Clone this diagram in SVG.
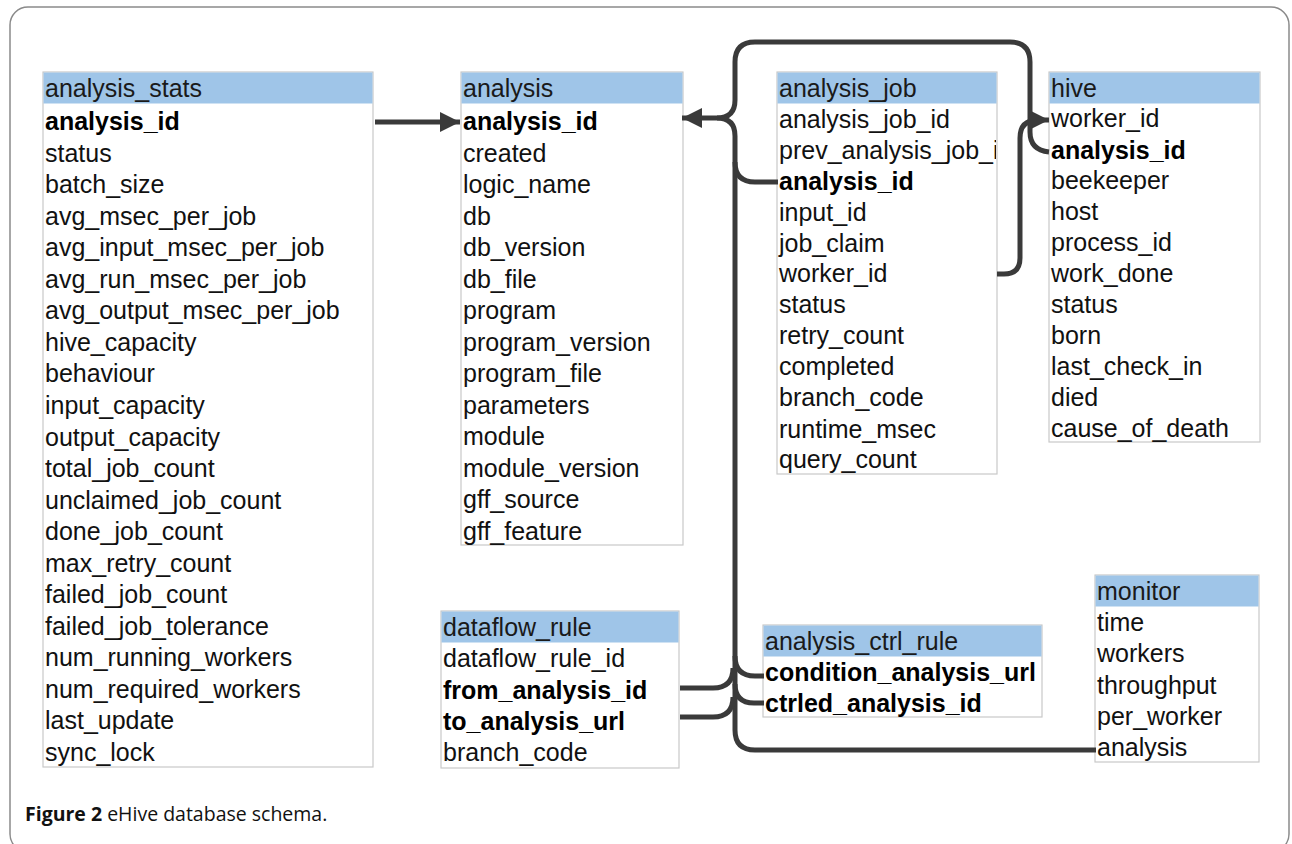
<svg xmlns="http://www.w3.org/2000/svg" width="1292" height="844" viewBox="0 0 1292 844">
<style>
.frame{fill:#fff;stroke:#8a8a8a;stroke-width:1.5}
.box{fill:#fff;stroke:#c9c9c9;stroke-width:1.2}
.hdr{fill:#9fc5e8;stroke:none}
.t{font-family:"Liberation Sans",Arial,sans-serif;font-size:25px;fill:#111}
.h{font-family:"Liberation Sans",Arial,sans-serif;font-size:25px;fill:#1a1a1a}
.b{font-weight:bold;fill:#000}
.c{fill:none;stroke:#3a3a3a;stroke-width:5;stroke-linecap:butt;stroke-linejoin:round}
.cap{font-family:"Open Sans","Noto Sans",sans-serif;font-size:19.5px;fill:#111}
</style>
<defs>
<marker id="ah" markerUnits="userSpaceOnUse" markerWidth="24" markerHeight="24" refX="20" refY="10" orient="auto">
<path d="M0,0 L20,10 L0,20 z" fill="#3a3a3a"/>
</marker>
<clipPath id="clipjob"><rect x="777" y="72" width="219" height="402"/></clipPath>
</defs>
<rect class="frame" x="10" y="7" width="1279" height="845" rx="18"/>

<g id="analysis_stats">
<rect class="box" x="43" y="72" width="330" height="695"/>
<rect class="hdr" x="43.5" y="72.5" width="329" height="31"/>
<text class="h" x="45" y="97">analysis_stats</text>
<text class="t b" x="45" y="130">analysis_id</text>
<text class="t" x="45" y="161.5">status</text>
<text class="t" x="45" y="193">batch_size</text>
<text class="t" x="45" y="224.5">avg_msec_per_job</text>
<text class="t" x="45" y="256">avg_input_msec_per_job</text>
<text class="t" x="45" y="287.5">avg_run_msec_per_job</text>
<text class="t" x="45" y="319">avg_output_msec_per_job</text>
<text class="t" x="45" y="350.5">hive_capacity</text>
<text class="t" x="45" y="382">behaviour</text>
<text class="t" x="45" y="414">input_capacity</text>
<text class="t" x="45" y="445.5">output_capacity</text>
<text class="t" x="45" y="477">total_job_count</text>
<text class="t" x="45" y="508.5">unclaimed_job_count</text>
<text class="t" x="45" y="540">done_job_count</text>
<text class="t" x="45" y="571.5">max_retry_count</text>
<text class="t" x="45" y="603">failed_job_count</text>
<text class="t" x="45" y="634.5">failed_job_tolerance</text>
<text class="t" x="45" y="666">num_running_workers</text>
<text class="t" x="45" y="697.5">num_required_workers</text>
<text class="t" x="45" y="729">last_update</text>
<text class="t" x="45" y="761">sync_lock</text>
</g>

<g id="analysis">
<rect class="box" x="461" y="72" width="222" height="473"/>
<rect class="hdr" x="461.5" y="72.5" width="221" height="31"/>
<text class="h" x="463" y="97">analysis</text>
<text class="t b" x="463" y="130">analysis_id</text>
<text class="t" x="463" y="161.5">created</text>
<text class="t" x="463" y="193">logic_name</text>
<text class="t" x="463" y="224.5">db</text>
<text class="t" x="463" y="256">db_version</text>
<text class="t" x="463" y="287.5">db_file</text>
<text class="t" x="463" y="319">program</text>
<text class="t" x="463" y="350.5">program_version</text>
<text class="t" x="463" y="382">program_file</text>
<text class="t" x="463" y="413.5">parameters</text>
<text class="t" x="463" y="445">module</text>
<text class="t" x="463" y="476.5">module_version</text>
<text class="t" x="463" y="508">gff_source</text>
<text class="t" x="463" y="539.5">gff_feature</text>
</g>

<g id="analysis_job">
<rect class="box" x="777" y="72" width="220" height="402"/>
<rect class="hdr" x="777.5" y="72.5" width="219" height="31"/>
<text class="h" x="779" y="97">analysis_job</text>
<g clip-path="url(#clipjob)">
<text class="t" x="779" y="128">analysis_job_id</text>
<text class="t" x="779" y="159">prev_analysis_job_i</text>
<text class="t b" x="779" y="190">analysis_id</text>
<text class="t" x="779" y="220.5">input_id</text>
<text class="t" x="779" y="251.5">job_claim</text>
<text class="t" x="779" y="282">worker_id</text>
<text class="t" x="779" y="313">status</text>
<text class="t" x="779" y="344">retry_count</text>
<text class="t" x="779" y="375">completed</text>
<text class="t" x="779" y="406">branch_code</text>
<text class="t" x="779" y="437.5">runtime_msec</text>
<text class="t" x="779" y="468">query_count</text>
</g>
</g>

<g id="hive">
<rect class="box" x="1049" y="72" width="211" height="370"/>
<rect class="hdr" x="1049.5" y="72.5" width="210" height="31"/>
<text class="h" x="1051" y="97">hive</text>
<text class="t" x="1051" y="127">worker_id</text>
<text class="t b" x="1051" y="159">analysis_id</text>
<text class="t" x="1051" y="189">beekeeper</text>
<text class="t" x="1051" y="220">host</text>
<text class="t" x="1051" y="251">process_id</text>
<text class="t" x="1051" y="281.5">work_done</text>
<text class="t" x="1051" y="313">status</text>
<text class="t" x="1051" y="344">born</text>
<text class="t" x="1051" y="375">last_check_in</text>
<text class="t" x="1051" y="406">died</text>
<text class="t" x="1051" y="437">cause_of_death</text>
</g>

<g id="dataflow_rule">
<rect class="box" x="441" y="611" width="238" height="157"/>
<rect class="hdr" x="441.5" y="611.5" width="237" height="31"/>
<text class="h" x="443" y="636">dataflow_rule</text>
<text class="t" x="443" y="667">dataflow_rule_id</text>
<text class="t b" x="443" y="699">from_analysis_id</text>
<text class="t b" x="443" y="730">to_analysis_url</text>
<text class="t" x="443" y="761">branch_code</text>
</g>

<g id="analysis_ctrl_rule">
<rect class="box" x="763" y="625" width="279" height="92"/>
<rect class="hdr" x="763.5" y="625.5" width="278" height="31"/>
<text class="h" x="765" y="650">analysis_ctrl_rule</text>
<text class="t b" x="765" y="681">condition_analysis_url</text>
<text class="t b" x="765" y="712">ctrled_analysis_id</text>
</g>

<g id="monitor">
<rect class="box" x="1095" y="575" width="164" height="187"/>
<rect class="hdr" x="1095.5" y="575.5" width="163" height="31"/>
<text class="h" x="1097" y="600">monitor</text>
<text class="t" x="1097" y="631">time</text>
<text class="t" x="1097" y="662">workers</text>
<text class="t" x="1097" y="694">throughput</text>
<text class="t" x="1097" y="725">per_worker</text>
<text class="t" x="1097" y="756">analysis</text>
</g>

<g id="connectors">
<path class="c" d="M375,122 L460,122" marker-end="url(#ah)"/>
<path class="c" d="M735,100 Q735,118 717,118 L682,118" marker-end="url(#ah)"/>
<path class="c" d="M735,136 Q735,118 717,118"/>
<path class="c" d="M735,100 L735,62 Q735,42 755,42 L1010,42 Q1030,42 1030,62 L1030,132 Q1030,150 1049,152"/>
<path class="c" d="M997,274 L1004,274 Q1020,274 1020,258 L1020,138 Q1020,120 1038,120 L1049,120" marker-end="url(#ah)"/>
<path class="c" d="M735,136 L735,730 Q735,750 755,750 L1096,750"/>
<path class="c" d="M735,162 Q735,182 755,182 L778,182"/>
<path class="c" d="M735,656 Q735,676 755,676 L764,676"/>
<path class="c" d="M735,684 Q735,703 754,703 L764,703"/>
<path class="c" d="M680,688 L713,688 Q733,688 733,668"/>
<path class="c" d="M680,717 L713,717 Q733,717 733,697"/>
</g>

<text class="cap" x="25" y="821"><tspan font-weight="bold">Figure 2</tspan> eHive database schema.</text>
</svg>
